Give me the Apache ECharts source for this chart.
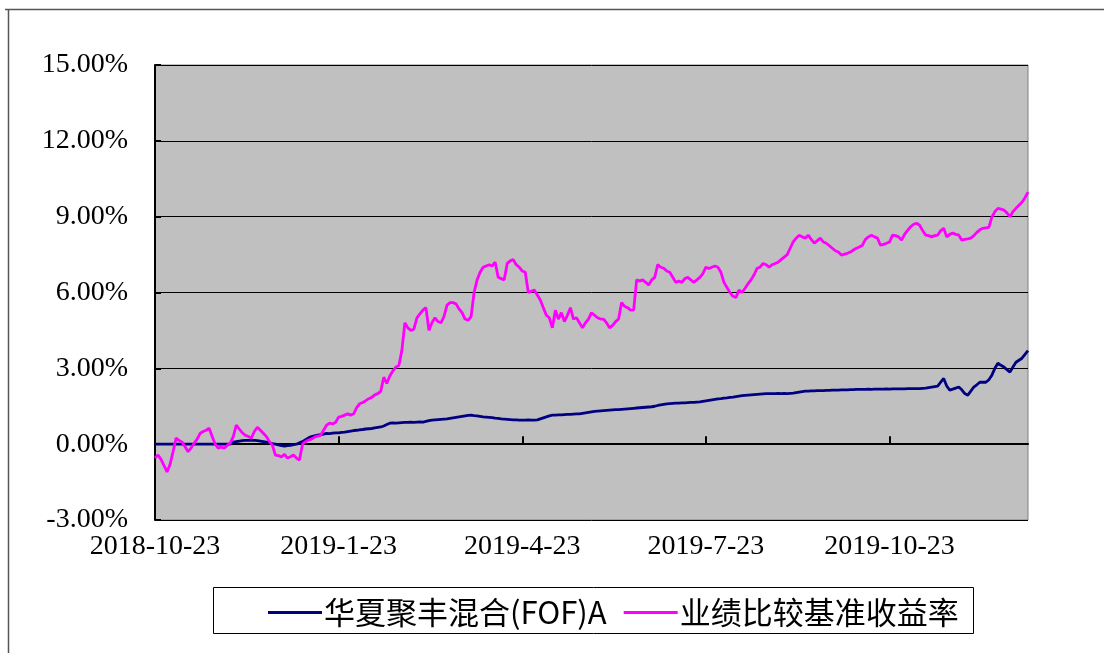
<!DOCTYPE html>
<html>
<head>
<meta charset="utf-8">
<script src="https://cdn.jsdelivr.net/npm/echarts@6/dist/echarts.min.js"></script>
<style>
html,body{margin:0;padding:0;background:#fff;}
#chart{width:1104px;height:653px;}
</style>
</head>
<body>
<div id="chart"></div>
<script>
const seriesNames = ['华夏聚丰混合(FOF)A', '业绩比较基准收益率'];
const tickLabels = ['2018-10-23', '2019-1-23', '2019-4-23', '2019-7-23', '2019-10-23'];
const yTicks = [-3, 0, 3, 6, 9, 12, 15];

const fund = [
0,0,0,0,0,0,0,0,0,0,
0,0,0,0,0,0,0,0,0,0,
0,0,0,0,0,0,0.08,0.10,0.12,0.14,
0.15,0.15,0.16,0.15,0.14,0.12,0.10,0.08,0.05,0.02,
0.00,-0.03,-0.06,-0.08,-0.06,-0.05,-0.02,0.00,0.05,0.10,
0.18,0.25,0.30,0.33,0.36,0.38,0.40,0.43,0.42,0.44,
0.45,0.45,0.47,0.48,0.50,0.52,0.54,0.55,0.57,0.58,
0.60,0.61,0.62,0.64,0.66,0.68,0.72,0.78,0.83,0.84,
0.83,0.84,0.85,0.86,0.86,0.87,0.86,0.87,0.88,0.87,
0.90,0.93,0.95,0.96,0.97,0.98,0.99,1.00,1.02,1.04,
1.06,1.08,1.10,1.12,1.14,1.15,1.13,1.12,1.10,1.08,
1.07,1.06,1.05,1.03,1.02,1.00,0.99,0.98,0.97,0.96,
0.96,0.95,0.95,0.95,0.96,0.95,0.95,0.96,1.00,1.04,
1.08,1.12,1.15,1.15,1.16,1.16,1.17,1.18,1.18,1.19,
1.20,1.20,1.22,1.24,1.26,1.28,1.30,1.31,1.32,1.33,
1.34,1.35,1.36,1.37,1.37,1.38,1.39,1.40,1.41,1.42,
1.43,1.44,1.45,1.46,1.47,1.48,1.50,1.53,1.55,1.57,
1.59,1.60,1.61,1.62,1.62,1.63,1.63,1.64,1.65,1.65,
1.66,1.67,1.69,1.71,1.73,1.75,1.77,1.79,1.80,1.82,
1.83,1.85,1.86,1.88,1.90,1.92,1.93,1.94,1.95,1.96,
1.97,1.98,1.99,2.00,2.00,2.00,2.00,2.01,2.00,2.01,
2.00,2.01,2.02,2.04,2.06,2.08,2.10,2.10,2.11,2.11,
2.12,2.12,2.12,2.13,2.13,2.14,2.14,2.14,2.15,2.15,
2.15,2.16,2.16,2.17,2.17,2.17,2.17,2.18,2.17,2.18,
2.18,2.18,2.18,2.19,2.18,2.19,2.19,2.19,2.19,2.19,
2.20,2.20,2.20,2.20,2.20,2.21,2.22,2.24,2.26,2.28,
2.30,2.45,2.60,2.30,2.14,2.18,2.22,2.26,2.15,2.00,
1.94,2.10,2.26,2.35,2.45,2.45,2.45,2.55,2.73,3.00,
3.20,3.12,3.05,2.95,2.85,3.05,3.24,3.32,3.40,3.55,
3.70
];

const benchmark = [
-0.55,-0.43,-0.60,-0.85,-1.10,-0.80,-0.30,0.24,0.15,0.08,
-0.10,-0.30,-0.15,0.04,0.20,0.43,0.50,0.55,0.63,0.30,
0.00,-0.16,-0.10,-0.16,-0.05,0.04,0.30,0.75,0.60,0.45,
0.35,0.30,0.24,0.50,0.67,0.55,0.43,0.30,0.10,-0.04,
-0.43,-0.45,-0.51,-0.40,-0.55,-0.50,-0.43,-0.55,-0.63,0.00,
0.10,0.16,0.20,0.28,0.32,0.35,0.55,0.75,0.83,0.80,
0.87,1.07,1.10,1.15,1.20,1.15,1.20,1.45,1.60,1.65,
1.72,1.80,1.85,1.95,2.00,2.10,2.65,2.40,2.70,2.90,
3.05,3.10,3.70,4.80,4.60,4.50,4.55,5.00,5.15,5.30,
5.40,4.50,4.80,5.00,4.85,4.80,5.05,5.50,5.60,5.60,
5.55,5.35,5.20,4.95,4.90,5.05,6.00,6.50,6.80,7.00,
7.05,7.10,7.05,7.20,6.60,6.55,6.50,7.15,7.25,7.30,
7.10,7.00,6.85,6.80,6.00,6.05,6.10,5.90,5.70,5.40,
5.10,5.00,4.60,5.30,4.95,5.20,4.85,5.10,5.40,4.95,
5.00,4.80,4.60,4.80,4.95,5.20,5.10,5.00,4.95,4.95,
4.80,4.60,4.70,4.85,4.95,5.60,5.45,5.40,5.30,5.30,
6.50,6.45,6.50,6.40,6.30,6.50,6.60,7.10,7.00,6.96,
6.85,6.80,6.60,6.40,6.45,6.40,6.55,6.60,6.50,6.40,
6.50,6.60,6.75,7.00,6.95,7.00,7.05,7.00,6.80,6.40,
6.20,6.00,5.85,5.80,6.10,6.00,6.17,6.35,6.50,6.70,
6.96,7.00,7.15,7.10,7.00,7.10,7.15,7.20,7.30,7.40,
7.50,7.75,8.00,8.15,8.27,8.20,8.15,8.27,8.10,7.95,
8.05,8.15,8.00,7.95,7.85,7.75,7.65,7.60,7.48,7.52,
7.55,7.60,7.68,7.75,7.80,7.87,8.10,8.20,8.27,8.20,
8.15,7.87,7.90,7.95,8.00,8.27,8.25,8.20,8.07,8.30,
8.46,8.60,8.70,8.74,8.66,8.45,8.27,8.25,8.20,8.25,
8.27,8.45,8.54,8.20,8.30,8.35,8.30,8.27,8.07,8.10,
8.12,8.15,8.25,8.38,8.48,8.54,8.56,8.58,8.98,9.20,
9.33,9.30,9.26,9.15,9.00,9.20,9.33,9.45,9.57,9.75,
9.97
];

const labelStep = 61;
const categories = fund.map((_, i) => 'd' + i);

const serif = '"Liberation Serif", "Times New Roman", serif';
const cjk = '"Noto Sans CJK SC", sans-serif';

const chart = echarts.init(document.getElementById('chart'));
chart.setOption({
  animation: false,
  backgroundColor: '#ffffff',
  grid: {
    left: 155, right: 76, top: 65, bottom: 133,
    show: true, backgroundColor: '#c0c0c0', borderColor: '#808080', borderWidth: 1
  },
  xAxis: [
    {
      type: 'category', data: categories, boundaryGap: false, position: 'bottom',
      axisLine: { onZero: true, lineStyle: { color: '#000', width: 2 } },
      axisTick: { show: true, inside: true, length: 8, interval: labelStep - 1, lineStyle: { color: '#000', width: 2 } },
      axisLabel: { show: false },
      splitLine: { show: false }
    },
    {
      type: 'category', data: categories, boundaryGap: false, position: 'bottom',
      axisLine: { show: false, onZero: false },
      axisTick: { show: false },
      axisLabel: {
        show: true, interval: labelStep - 1, margin: 13,
        fontFamily: serif, fontSize: 28, color: '#000',
        formatter: (v, idx) => tickLabels[Math.round(idx / labelStep)] || ''
      },
      splitLine: { show: false }
    }
  ],
  yAxis: {
    type: 'value', min: yTicks[0], max: yTicks[yTicks.length - 1], interval: 3,
    axisLine: { show: true, onZero: false, lineStyle: { color: '#000', width: 2 } },
    axisTick: { show: true, inside: true, length: 6, lineStyle: { color: '#000', width: 2 } },
    axisLabel: {
      margin: 27, fontFamily: serif, fontSize: 28, color: '#000',
      formatter: v => v.toFixed(2) + '%'
    },
    splitLine: { show: true, lineStyle: { color: '#000', width: 1 } }
  },
  legend: {
    left: 263, top: 592,
    icon: 'rect', itemWidth: 54, itemHeight: 3, itemGap: 17,
    textStyle: { fontFamily: cjk, fontSize: 31, color: '#000', padding: [0, 0, 0, -3] },
    data: seriesNames
  },
  graphic: [
    { type: 'rect', shape: { x: 213.5, y: 587.5, width: 760, height: 46 },
      style: { fill: 'none', stroke: '#000', lineWidth: 1 }, z: -1 },
    { type: 'line', shape: { x1: 5, y1: 9.5, x2: 1104, y2: 9.5 },
      style: { stroke: '#555', lineWidth: 1.5 } },
    { type: 'line', shape: { x1: 8.5, y1: 9, x2: 8.5, y2: 653 },
      style: { stroke: '#555', lineWidth: 1.5 } }
  ],
  series: [
    {
      name: seriesNames[0], type: 'line', data: fund, xAxisIndex: 0,
      showSymbol: false, symbol: 'none',
      lineStyle: { color: '#000080', width: 2.8 }, itemStyle: { color: '#000080' }, z: 3
    },
    {
      name: seriesNames[1], type: 'line', data: benchmark, xAxisIndex: 0,
      showSymbol: false, symbol: 'none',
      lineStyle: { color: '#ff00ff', width: 2.8 }, itemStyle: { color: '#ff00ff' }, z: 4
    }
  ]
});
</script>
</body>
</html>
